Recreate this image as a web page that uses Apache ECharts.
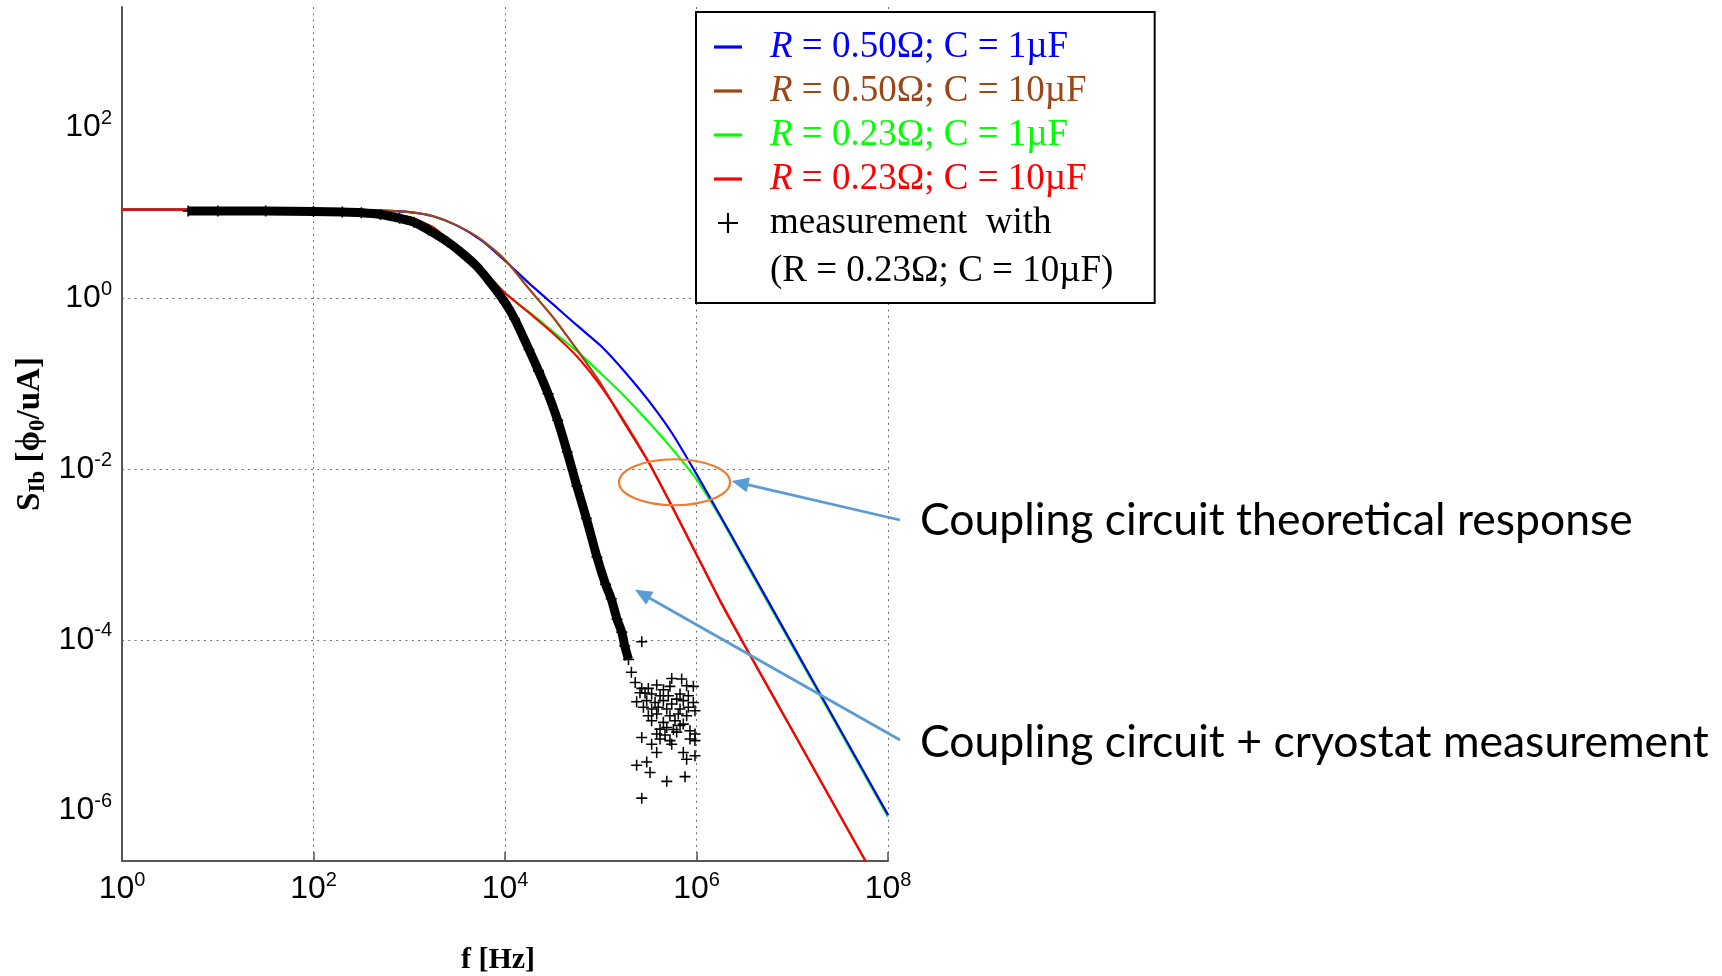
<!DOCTYPE html>
<html>
<head>
<meta charset="utf-8">
<title>Coupling circuit response</title>
<script src="https://cdn.jsdelivr.net/npm/echarts@6/dist/echarts.min.js"></script>
<style>
  html, body { margin: 0; padding: 0; background: #fff; }
  #chart { width: 1722px; height: 976px; }
</style>
</head>
<body>
<div id="chart"></div>
<script>
// ---- Data -------------------------------------------------------------
// Frequency grid (Hz) for the theoretical responses
const freqHz = [1, 10, 100, 316, 1000, 1778, 3162, 5623, 1e4, 1.778e4, 3.162e4, 5.623e4,
  1e5, 1.778e5, 3.162e5, 5.623e5, 1e6, 1.778e6, 3.162e6, 1e7, 3.162e7, 1e8];

// Theoretical S_Ib [phi0/uA] for each R / C combination
const sR050C1 = [10.9, 10.9, 10.9, 10.8, 10.2, 9.12, 7.08, 4.79, 2.75, 1.50, 0.851, 0.483,
  0.277, 0.138, 0.0631, 0.0257, 8.71e-3, 2.82e-3, 8.91e-4, 8.91e-5, 8.91e-6, 8.91e-7];
const sR050C10 = [10.9, 10.9, 10.9, 10.8, 10.2, 9.12, 7.08, 4.9, 2.82, 1.29, 0.603, 0.251,
  0.1, 0.0339, 0.012, 3.55e-3, 1.0e-3, 2.82e-4, 8.71e-5, 8.71e-6, 8.71e-7, 8.71e-8];
const sR023C1 = [10.9, 10.9, 10.9, 10.7, 8.91, 6.76, 3.98, 2.26, 1.15, 0.692, 0.407, 0.24,
  0.132, 0.0708, 0.0355, 0.017, 7.59e-3, 2.69e-3, 8.51e-4, 8.51e-5, 8.51e-6, 8.51e-7];
const sR023C10 = [10.9, 10.9, 10.9, 10.7, 8.91, 6.76, 3.98, 2.26, 1.15, 0.676, 0.389, 0.209,
  0.0933, 0.0355, 0.012, 3.55e-3, 1.0e-3, 2.82e-4, 8.71e-5, 8.71e-6, 8.71e-7, 8.71e-8];

// Measurement (R = 0.23 ohm, C = 10 uF): dense low-frequency part [f Hz, S]
const measDense = [
  [4.9, 10.5], [10, 10.5], [31.6, 10.5], [100, 10.35], [200, 10.2], [316, 10.0], [501, 9.55],
  [794, 8.61], [1122, 7.76], [1585, 6.31], [2512, 4.57], [3548, 3.39], [5012, 2.40],
  [7079, 1.51], [1.0e4, 0.891], [1.259e4, 0.575], [1.778e4, 0.251], [2.239e4, 0.141],
  [2.818e4, 0.0759], [3.548e4, 0.0372], [4.467e4, 0.0158], [5.623e4, 6.31e-3],
  [7.079e4, 2.63e-3], [9.12e4, 9.33e-4], [1.122e5, 4.47e-4], [1.288e5, 3.02e-4],
  [1.479e5, 1.74e-4], [1.66e5, 1.23e-4], [1.778e5, 8.51e-5], [1.95e5, 5.89e-5]
];
// Measurement: scattered high-frequency points near the noise floor [f Hz, S]
const measNoise = [
  [2.089e5, 4.17e-5], [2.291e5, 3.16e-5], [2.57e5, 2.4e-5],
  [2.68e5, 9.5e-5], [5.51e5, 3.53e-5], [7.00e5, 3.47e-5], [2.68e5, 2.70e-5], [3.14e5, 2.70e-5],
  [3.84e5, 2.95e-5], [4.51e5, 2.60e-5], [5.28e5, 2.85e-5], [7.89e5, 2.90e-5], [9.27e5, 2.85e-5],
  [2.90e5, 2.38e-5], [3.40e5, 2.32e-5], [4.16e5, 2.21e-5], [5.08e5, 2.21e-5], [6.73e5, 2.32e-5],
  [8.22e5, 2.21e-5], [6.21e5, 2.02e-5], [2.37e5, 1.88e-5], [3.02e5, 1.94e-5], [3.69e5, 1.85e-5],
  [4.51e5, 1.94e-5], [5.51e5, 1.77e-5], [7.28e5, 1.94e-5], [9.27e5, 1.85e-5], [2.79e5, 1.62e-5],
  [3.40e5, 1.55e-5], [3.99e5, 1.62e-5], [4.89e5, 1.55e-5], [6.73e5, 1.55e-5], [8.22e5, 1.62e-5],
  [9.64e5, 1.48e-5], [3.14e5, 1.29e-5], [3.84e5, 1.35e-5], [5.28e5, 1.29e-5], [6.46e5, 1.35e-5],
  [7.89e5, 1.29e-5], [3.40e5, 1.13e-5], [4.51e5, 1.08e-5], [5.96e5, 1.13e-5], [7.28e5, 1.03e-5],
  [4.16e5, 9.0e-6], [4.89e5, 9.4e-6], [5.73e5, 8.9e-6], [6.73e5, 9.9e-6], [8.55e5, 8.6e-6],
  [3.84e5, 7.9e-6], [4.69e5, 7.7e-6], [6.21e5, 8.3e-6], [9.64e5, 7.9e-6], [2.68e5, 7.2e-6],
  [4.16e5, 6.9e-6], [5.28e5, 6.6e-6], [8.55e5, 6.9e-6], [9.64e5, 6.6e-6], [3.40e5, 6.0e-6],
  [5.51e5, 6.0e-6], [3.84e5, 4.8e-6], [7.28e5, 4.8e-6], [7.89e5, 4.0e-6], [9.64e5, 4.4e-6],
  [3.02e5, 3.7e-6], [2.37e5, 3.4e-6], [3.27e5, 2.8e-6], [4.89e5, 2.2e-6], [7.59e5, 2.5e-6],
  [2.68e5, 1.4e-6]
];

// Axis tick exponents (decades)
const xTickExp = [0, 2, 4, 6, 8];
const yTickExp = [-6, -4, -2, 0, 2];

// Series labels and colours
const curveNames = ['R = 0.50Ω; C = 1µF', 'R = 0.50Ω; C = 10µF', 'R = 0.23Ω; C = 1µF', 'R = 0.23Ω; C = 10µF'];
const curveColors = ['#0000ff', '#9c4616', '#00ff00', '#ff0000'];
const measName = 'measurement  with';
const measNameLine2 = '(R = 0.23Ω; C = 10µF)';

// ---- Helpers ------------------------------------------------------------
const lg = (v) => Math.log10(v);
const toLogPairs = (fs, ss) => fs.map((f, i) => [lg(f), lg(ss[i])]);
const plusPath = 'path://M4.3,0H5.7V4.3H10V5.7H5.7V10H4.3V5.7H0V4.3H4.3Z';
const legendPlusPath = 'path://M4.45,0H5.55V4.45H10V5.55H5.55V10H4.45V5.55H0V4.45H4.45Z';
const barPath = 'path://M0,0H28V3.2H0Z';

const sansFamily = '"Liberation Sans", Arial, sans-serif';
const serifFamily = '"Liberation Serif", "Times New Roman", serif';

const tickRich = {
  b: { fontFamily: sansFamily, fontSize: 32, lineHeight: 38, color: '#000' },
  s: { fontFamily: sansFamily, fontSize: 20, lineHeight: 15, verticalAlign: 'top', color: '#000' }
};
const powerLabel = (v) => '{b|10}{s|' + v + '}';

const legendFont = 37;
const legendRich = {};
curveColors.forEach((c, i) => {
  legendRich['it' + i] = { fontFamily: serifFamily, fontStyle: 'italic', fontSize: legendFont, lineHeight: 44, color: c };
});

const chart = echarts.init(document.getElementById('chart'), null, { renderer: 'canvas' });

const curveData = [sR050C1, sR050C10, sR023C1, sR023C10].map((s) => toLogPairs(freqHz, s));
// draw order: green below blue, blue below brown, brown below red
const drawOrder = [2, 0, 1, 3];

const series = drawOrder.map((i, k) => ({
  name: curveNames[i],
  type: 'line',
  data: curveData[i],
  showSymbol: false,
  symbol: 'none',
  smooth: 0.2,
  clip: true,
  z: 2 + k,
  silent: true,
  lineStyle: { color: curveColors[i], width: 2.2 },
  itemStyle: { color: curveColors[i] }
}));

// thick trace formed by the densely packed measurement markers
series.push({
  name: 'measurement band',
  type: 'line',
  data: measDense.map(([f, s]) => [lg(f), lg(s)]),
  showSymbol: false,
  symbol: 'none',
  smooth: 0.2,
  z: 7,
  silent: true,
  lineStyle: { color: '#000', width: 9 },
  itemStyle: { color: '#000' }
});
series.push({
  name: measName,
  type: 'scatter',
  data: measDense.concat(measNoise).map(([f, s]) => [lg(f), lg(s)]),
  symbol: plusPath,
  symbolSize: 11,
  z: 8,
  silent: true,
  itemStyle: { color: '#000', opacity: 1 }
});

const legendData = curveNames.map((n, i) => ({
  name: n, icon: barPath, itemStyle: { color: curveColors[i] }, textStyle: { color: curveColors[i] }
}));
legendData.push({ name: measName, icon: legendPlusPath, itemStyle: { color: '#000' }, textStyle: { color: '#000' } });

const gridDots = { type: [2, 4.3], color: '#6e6e6e', width: 1 };

const option = {
  animation: false,
  backgroundColor: '#fff',
  grid: { left: 122, right: 834, top: 7, bottom: 115, containLabel: false, outerBoundsMode: 'none' },
  xAxis: {
    type: 'value', min: 0, max: 8, interval: 2,
    axisLine: { onZero: false, lineStyle: { color: '#555', width: 2 } },
    axisTick: { show: true, inside: true, length: 9, lineStyle: { color: '#555', width: 1.5 } },
    axisLabel: { margin: 9, formatter: (v) => powerLabel(v), rich: tickRich, color: '#000' },
    splitLine: { show: true, showMinLine: false, lineStyle: gridDots },
    name: 'f [Hz]', nameLocation: 'middle', nameGap: 84,
    nameTextStyle: { fontFamily: serifFamily, fontWeight: 'bold', fontSize: 30, color: '#000', padding: [0, 14, 0, 0] }
  },
  yAxis: {
    type: 'value', min: -6.59, max: 3.41,
    axisLine: { onZero: false, lineStyle: { color: '#555', width: 2 } },
    axisTick: { show: false, customValues: yTickExp },
    axisLabel: {
      margin: 10, customValues: yTickExp,
      formatter: (v) => (yTickExp.indexOf(v) >= 0 ? powerLabel(v) : ''), rich: tickRich, color: '#000'
    },
    splitLine: { show: true, showMinLine: false, showMaxLine: false, lineStyle: gridDots },
    name: '{m|S}{d|Ib}{m| [ϕ}{d|0}{m|/uA]}', nameLocation: 'middle', nameGap: 72, nameRotate: 90,
    nameTextStyle: {
      fontFamily: serifFamily, fontWeight: 'bold', fontSize: 33, color: '#000',
      rich: {
        m: { fontFamily: serifFamily, fontWeight: 'bold', fontSize: 33, lineHeight: 40, color: '#000' },
        d: { fontFamily: serifFamily, fontWeight: 'bold', fontSize: 23, lineHeight: 30, verticalAlign: 'bottom', color: '#000' }
      }
    }
  },
  legend: {
    orient: 'vertical', left: 696, top: 12,
    padding: [13, 68, 58, 18], itemGap: 0, itemWidth: 28, itemHeight: 20,
    backgroundColor: '#fff', borderColor: '#000', borderWidth: 2, borderRadius: 0,
    selectedMode: false, z: 20,
    textStyle: { fontFamily: serifFamily, fontSize: legendFont, lineHeight: 44, padding: [0, 0, 0, 23], rich: legendRich },
    formatter: (name) => {
      const i = curveNames.indexOf(name);
      return i >= 0 ? '{it' + i + '|R}' + name.slice(1) : name;
    },
    data: legendData
  },
  series: series
};

chart.setOption(option);

// ---- Call-outs ------------------------------------------------------------
const toPx = (f, s) => chart.convertToPixel({ gridIndex: 0 }, [lg(f), lg(s)]);
const calloutBlue = '#5B9BD5';

function arrow(tail, tip) {
  const dx = tip[0] - tail[0], dy = tip[1] - tail[1];
  const len = Math.hypot(dx, dy);
  const ux = dx / len, uy = dy / len;
  const headLen = 17, halfW = 7.5;
  const bx = tip[0] - ux * headLen, by = tip[1] - uy * headLen;
  return [
    { type: 'line', z: 100, silent: true,
      shape: { x1: tail[0], y1: tail[1], x2: bx + ux * 2, y2: by + uy * 2 },
      style: { stroke: calloutBlue, lineWidth: 2.75 } },
    { type: 'polygon', z: 100, silent: true,
      shape: { points: [tip, [bx - uy * halfW, by + ux * halfW], [bx + uy * halfW, by - ux * halfW]] },
      style: { fill: calloutBlue } }
  ];
}

const measureCtx = document.createElement('canvas').getContext('2d');
function fitFontSize(text, family, targetWidth) {
  measureCtx.font = '100px ' + family;
  return 100 * targetWidth / measureCtx.measureText(text).width;
}

const noteFamily = 'Lato, "Open Sans", sans-serif';
const note1 = 'Coupling circuit theoretical response';
const note2 = 'Coupling circuit + cryostat measurement';
const note1Size = fitFontSize(note1, noteFamily, 713);
const note2Size = fitFontSize(note2, noteFamily, 789);

const ellipseCenter = toPx(5.9e5, 7.0e-3);
const tipTheory = toPx(2.33e6, 7.24e-3);
const tipMeas = toPx(2.28e5, 3.85e-4);

chart.setOption({
  graphic: [
    { type: 'text', z: 100, silent: true, x: 770, y: 271,
      style: { text: measNameLine2, fontFamily: serifFamily, fontSize: legendFont, fill: '#000', align: 'left', verticalAlign: 'middle' } },
    { type: 'ellipse', z: 100, silent: true,
      shape: { cx: ellipseCenter[0], cy: ellipseCenter[1], rx: 55.5, ry: 23 },
      style: { fill: 'none', stroke: '#ED7D31', lineWidth: 2.2 } },
    ...arrow([900, 520], tipTheory),
    ...arrow([900, 740], tipMeas),
    { type: 'text', z: 100, silent: true, x: 920, y: 521,
      style: { text: note1, fontFamily: noteFamily, fontSize: note1Size, fill: '#000', align: 'left', verticalAlign: 'middle' } },
    { type: 'text', z: 100, silent: true, x: 920, y: 743,
      style: { text: note2, fontFamily: noteFamily, fontSize: note2Size, fill: '#000', align: 'left', verticalAlign: 'middle' } }
  ]
});
</script>
</body>
</html>
